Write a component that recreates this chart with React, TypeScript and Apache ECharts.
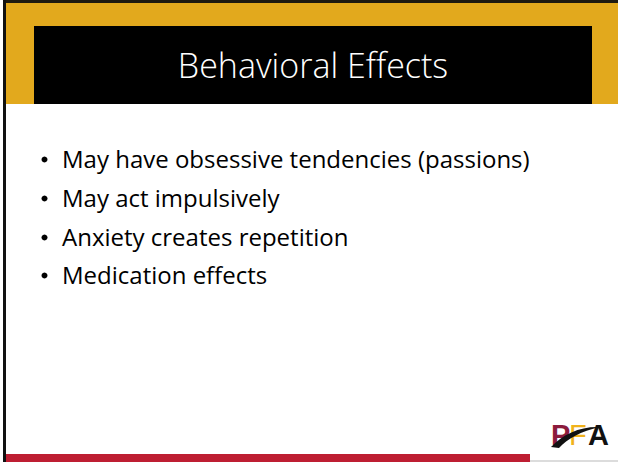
import React, { useEffect, useRef } from "react";
import * as echarts from "echarts";

const titleText = "Behavioral Effects";
const bullets = [
  "May have obsessive tendencies (passions)",
  "May act impulsively",
  "Anxiety creates repetition",
  "Medication effects",
];
const logoLetters = ["P", "F", "A"];

const GOLD = "#E2A91D";
const RED = "#BE1E32";
const MAROON = "#8C1B3C";

echarts.graphic.registerShape(
  "swoosh",
  echarts.graphic.extendPath("M0,21 C12,8 30,0 49,1 C30,5 16,13 8,22 Z", {})
);

export default function App() {
  const ref = useRef<HTMLDivElement>(null);
  useEffect(() => {
    document.body.style.margin = "0";
    const chart = echarts.init(ref.current!, null, { renderer: "svg" });
    const font = "'Open Sans', 'Noto Sans', sans-serif";
    const elements: any[] = [
      { type: "rect", shape: { x: 0, y: 0, width: 618, height: 462 }, style: { fill: "#fff" } },
      { type: "rect", shape: { x: 3, y: 0, width: 615, height: 3 }, style: { fill: "#1e1a10" } },
      { type: "rect", shape: { x: 3, y: 0, width: 3, height: 462 }, style: { fill: "#111" } },
      { type: "rect", shape: { x: 6, y: 3, width: 612, height: 101 }, style: { fill: GOLD } },
      { type: "rect", shape: { x: 34, y: 26, width: 558, height: 78 }, style: { fill: "#000" } },
      {
        type: "text",
        x: 313,
        y: 65,
        style: {
          text: titleText,
          fill: "#fff",
          font: `300 34px ${font}`,
          align: "center",
          verticalAlign: "middle",
        },
      },
      { type: "rect", shape: { x: 6, y: 454, width: 524, height: 8 }, style: { fill: RED } },
      { type: "rect", shape: { x: 530, y: 460, width: 88, height: 2 }, style: { fill: "#dcdcdc" } },
    ];
    const baselines = [167, 206, 245, 283];
    bullets.forEach((b, i) => {
      elements.push({
        type: "circle",
        shape: { cx: 44.5, cy: baselines[i] - 7.5, r: 3 },
        style: { fill: "#000" },
      });
      elements.push({
        type: "text",
        x: 62,
        y: baselines[i] - 8.5,
        style: {
          text: b,
          fill: "#000",
          font: `24px ${font}`,
          align: "left",
          verticalAlign: "middle",
        },
      });
    });
    // logo
    const logoX = [551, 569, 588];
    const logoColors = [MAROON, "#F0B21B", "#111"];
    const logoWeights = ["bold", "normal", "bold"];
    logoLetters.forEach((l, i) => {
      elements.push({
        type: "text",
        x: logoX[i],
        y: 435,
        style: {
          text: l,
          fill: logoColors[i],
          font: `${logoWeights[i]} 29px 'Liberation Sans', Arial, sans-serif`,
          align: "left",
          verticalAlign: "middle",
        },
      });
    });
    elements.push({
      type: "swoosh",
      x: 551,
      y: 426,
      scaleX: 1,
      scaleY: 1,
      style: { fill: "#111" },
    });
    chart.setOption({ animation: false, graphic: { elements } });
    return () => chart.dispose();
  }, []);
  return <div ref={ref} style={{ position: "absolute", left: 0, top: 0, width: 618, height: 462 }} />;
}
